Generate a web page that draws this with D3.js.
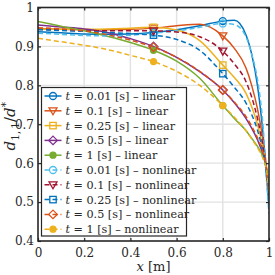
<!DOCTYPE html>
<html>
<head>
<meta charset="utf-8">
<title>d11 profile</title>
<script src="https://cdn.jsdelivr.net/npm/d3@7"></script>
<style>
  body { margin: 0; background: #fff; }
  svg text { font-family: "DejaVu Serif", "Liberation Serif", serif !important; fill: #262626; }
</style>
</head>
<body>
<div id="chart"></div>
<script>
var xs = [0, 0.1, 0.2, 0.3, 0.4, 0.5, 0.6, 0.7, 0.8, 0.85, 0.9, 0.925, 0.95, 0.975, 0.99, 1];
var times = ['0.01', '0.1', '0.25', '0.5', '1'];

// linear
var lin001 = [0.938, 0.935, 0.932, 0.931, 0.932, 0.936, 0.943, 0.953, 0.965, 0.967, 0.93, 0.88, 0.8, 0.67, 0.56, 0.49];
var lin01  = [0.946, 0.944, 0.943, 0.943, 0.944, 0.947, 0.953, 0.957, 0.927, 0.895, 0.845, 0.8, 0.74, 0.655, 0.585, 0.52];
var lin025 = [0.945, 0.944, 0.944, 0.945, 0.947, 0.949, 0.942, 0.915, 0.852, 0.82, 0.78, 0.745, 0.7, 0.635, 0.58, 0.52];
var lin05  = [0.955, 0.95, 0.945, 0.936, 0.92, 0.9, 0.872, 0.835, 0.788, 0.755, 0.715, 0.69, 0.66, 0.62, 0.58, 0.52];
var lin1   = [0.964, 0.952, 0.94, 0.926, 0.91, 0.89, 0.862, 0.818, 0.748, 0.715, 0.684, 0.664, 0.643, 0.615, 0.585, 0.53];
// nonlinear
var non001 = [0.934, 0.931, 0.928, 0.927, 0.929, 0.934, 0.94, 0.949, 0.959, 0.956, 0.925, 0.88, 0.815, 0.69, 0.55, 0.47];
var non01  = [0.944, 0.942, 0.94, 0.94, 0.94, 0.94, 0.937, 0.925, 0.888, 0.855, 0.81, 0.77, 0.715, 0.64, 0.575, 0.52];
var non025 = [0.943, 0.941, 0.939, 0.936, 0.933, 0.929, 0.918, 0.89, 0.83, 0.795, 0.755, 0.725, 0.685, 0.625, 0.575, 0.52];
var non05  = [0.948, 0.945, 0.94, 0.93, 0.916, 0.898, 0.872, 0.836, 0.788, 0.757, 0.72, 0.695, 0.665, 0.625, 0.58, 0.52];
var non1   = [0.921, 0.912, 0.903, 0.892, 0.877, 0.861, 0.836, 0.8, 0.748, 0.718, 0.684, 0.662, 0.64, 0.61, 0.58, 0.52];

var xTicks = [0, 0.2, 0.4, 0.6, 0.8, 1];
var yTicks = [0.4, 0.5, 0.6, 0.7, 0.8, 0.9, 1];
var markIdx = [5, 8];   // markers at x = 0.5 and 0.8

var series = [
  { t: times[0], kind: 'linear',    v: lin001, c: '#0072BD', m: 'circle',   dash: false },
  { t: times[1], kind: 'linear',    v: lin01,  c: '#D95319', m: 'triangle', dash: false },
  { t: times[2], kind: 'linear',    v: lin025, c: '#EDB120', m: 'square',   dash: false },
  { t: times[3], kind: 'linear',    v: lin05,  c: '#7E2F8E', m: 'diamond',  dash: false },
  { t: times[4], kind: 'linear',    v: lin1,   c: '#77AC30', m: 'dot',      dash: false },
  { t: times[0], kind: 'nonlinear', v: non001, c: '#4DBEEE', m: 'circle',   dash: true },
  { t: times[1], kind: 'nonlinear', v: non01,  c: '#A2142F', m: 'triangle', dash: true },
  { t: times[2], kind: 'nonlinear', v: non025, c: '#0072BD', m: 'square',   dash: true },
  { t: times[3], kind: 'nonlinear', v: non05,  c: '#D95319', m: 'diamond',  dash: true },
  { t: times[4], kind: 'nonlinear', v: non1,   c: '#EDB120', m: 'dot',      dash: true }
];

var W = 275, H = 275;
var margin = { left: 38, top: 7.5, right: 6, bottom: 34 };
var pw = W - margin.left - margin.right;
var ph = H - margin.top - margin.bottom;

var svg = d3.select('#chart').append('svg').attr('width', W).attr('height', H);
var g = svg.append('g').attr('transform', 'translate(' + margin.left + ',' + margin.top + ')');

var xScale = d3.scaleLinear().domain([0, 1]).range([0, pw]);
var yScale = d3.scaleLinear().domain([0.4, 1]).range([ph, 0]);

// grid
g.append('g').selectAll('line').data(xTicks.slice(1, -1)).enter().append('line')
  .attr('x1', function(d){ return xScale(d); }).attr('x2', function(d){ return xScale(d); })
  .attr('y1', 0).attr('y2', ph).attr('stroke', '#e2e2e2').attr('stroke-width', 1.4);
g.append('g').selectAll('line').data(yTicks.slice(1, -1)).enter().append('line')
  .attr('y1', function(d){ return yScale(d); }).attr('y2', function(d){ return yScale(d); })
  .attr('x1', 0).attr('x2', pw).attr('stroke', '#e2e2e2').attr('stroke-width', 1.4);

// curves
svg.append('clipPath').attr('id', 'clip').append('rect').attr('width', pw).attr('height', ph);
var line = d3.line()
  .x(function(d, i){ return xScale(xs[i]); })
  .y(function(d){ return yScale(d); })
  .curve(d3.curveMonotoneX);

var curves = g.append('g').attr('clip-path', 'url(#clip)');
series.forEach(function(s){
  curves.append('path').datum(s.v)
    .attr('d', line)
    .attr('fill', 'none')
    .attr('stroke', s.c)
    .attr('stroke-width', 1.5)
    .attr('stroke-dasharray', s.dash ? '5,3' : null);
});

function drawMarker(sel, s, x, y){
  var mk;
  if (s.m === 'circle') {
    mk = sel.append('circle').attr('cx', x).attr('cy', y).attr('r', 3.5);
  } else if (s.m === 'dot') {
    mk = sel.append('circle').attr('cx', x).attr('cy', y).attr('r', 3);
  } else if (s.m === 'triangle') {
    mk = sel.append('path').attr('d', 'M' + (x - 4) + ',' + (y - 3) + 'L' + (x + 4) + ',' + (y - 3) + 'L' + x + ',' + (y + 4) + 'Z');
  } else if (s.m === 'square') {
    mk = sel.append('rect').attr('x', x - 3.2).attr('y', y - 3.2).attr('width', 6.4).attr('height', 6.4);
  } else {
    mk = sel.append('path').attr('d', 'M' + x + ',' + (y - 4.3) + 'L' + (x + 4.3) + ',' + y + 'L' + x + ',' + (y + 4.3) + 'L' + (x - 4.3) + ',' + y + 'Z');
  }
  mk.attr('stroke', s.c).attr('stroke-width', 1.3)
    .attr('fill', s.m === 'dot' ? s.c : 'none');
}

series.forEach(function(s){
  markIdx.forEach(function(i){
    drawMarker(g, s, xScale(xs[i]), yScale(s.v[i]));
  });
});

// axes (ticks inward, box on)
g.append('g').attr('transform', 'translate(0,' + ph + ')')
  .call(d3.axisBottom(xScale).tickValues(xTicks).tickSize(-3).tickPadding(7).tickFormat(d3.format('')));
g.append('g')
  .call(d3.axisLeft(yScale).tickValues(yTicks).tickSize(-3).tickPadding(4).tickFormat(d3.format('')));
g.append('g').call(d3.axisTop(xScale).tickValues(xTicks).tickSize(-3).tickFormat(''));
g.append('g').attr('transform', 'translate(' + pw + ',0)')
  .call(d3.axisRight(yScale).tickValues(yTicks).tickSize(-3).tickFormat(''));
g.selectAll('.domain').remove();
g.selectAll('.tick line').attr('stroke', '#262626').attr('stroke-width', 1.2);
g.selectAll('.tick text').style('font-size', '12px').attr('fill', '#262626');
g.append('rect').attr('width', pw).attr('height', ph)
  .attr('fill', 'none').attr('stroke', '#262626').attr('stroke-width', 1.6);

// axis labels
var xl = svg.append('text').attr('x', margin.left + pw / 2).attr('y', 271)
  .attr('text-anchor', 'middle').style('font-size', '13px');
xl.append('tspan').style('font-style', 'italic').text('x');
xl.append('tspan').text(' [m]');

var yl = svg.append('text').attr('transform', 'translate(15,' + (margin.top + ph / 2 + 2) + ') rotate(-90)')
  .attr('text-anchor', 'middle').style('font-size', '15px');
yl.append('tspan').style('font-style', 'italic').text('d');
yl.append('tspan').attr('dy', 3.5).style('font-size', '10.5px').text('1,\u20091');
yl.append('tspan').attr('dy', -3.5).text('/');
yl.append('tspan').style('font-style', 'italic').text('d');
yl.append('tspan').attr('dy', -6).style('font-size', '10.5px').text('*');

// legend
var lg = svg.append('g').attr('transform', 'translate(41.5,87.5)');
lg.append('rect').attr('width', 145).attr('height', 148.5)
  .attr('fill', '#fff').attr('stroke', '#262626').attr('stroke-width', 1.2);
series.forEach(function(s, i){
  var y = 8.5 + i * 14.8;
  var row = lg.append('g');
  row.append('line').attr('x1', 3).attr('x2', 20).attr('y1', y).attr('y2', y)
    .attr('stroke', s.c).attr('stroke-width', 1.5)
    .attr('stroke-dasharray', s.dash ? '5,3' : null);
  drawMarker(row, s, 11.5, y);
  var tx = row.append('text').attr('x', 24).attr('y', y + 4).style('font-size', '11.2px');
  tx.append('tspan').style('font-style', 'italic').text('t');
  tx.append('tspan').text(' = ' + s.t + ' [s] \u2013 ' + s.kind);
});
</script>
</body>
</html>
